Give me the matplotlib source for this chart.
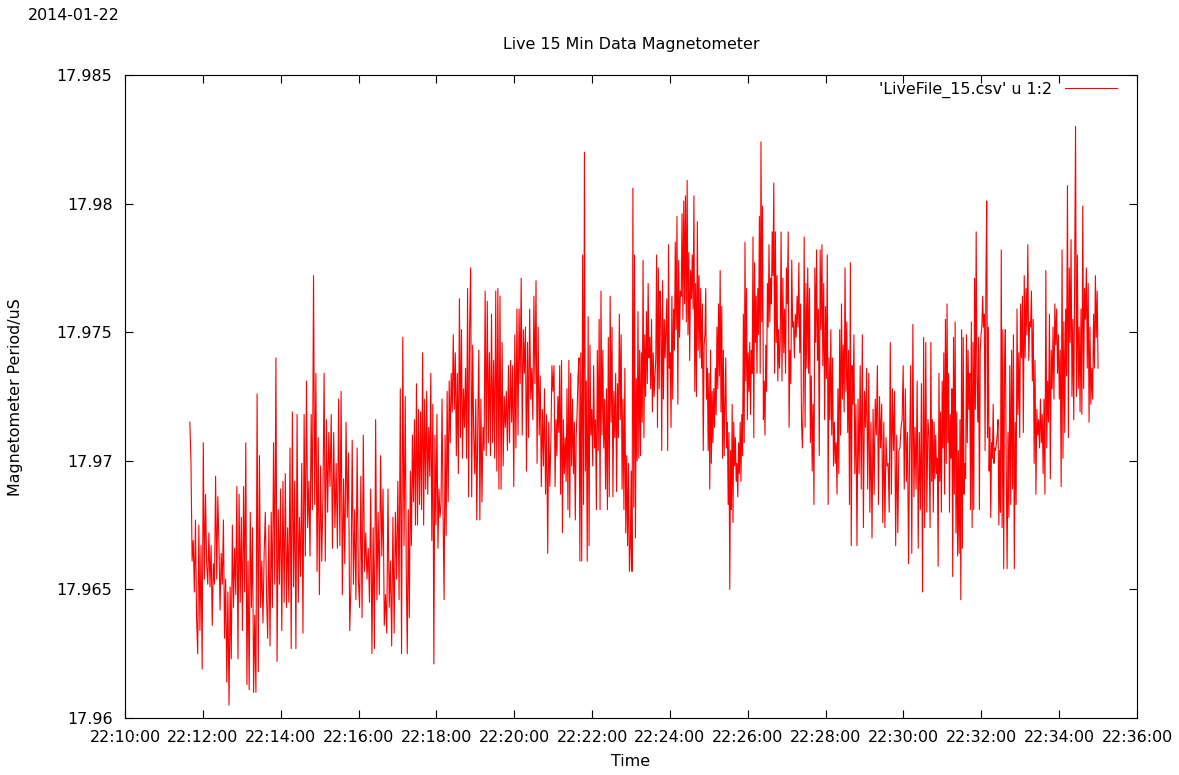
import numpy as np
import pandas as pd
import matplotlib
matplotlib.use("Agg")
import matplotlib.pyplot as plt
import matplotlib.dates as mdates

plt.rcParams['font.family'] = ['DejaVu Sans']

date_str = "2014-01-22"
title = "Live 15 Min Data Magnetometer"
legend_label = "'LiveFile_15.csv' u 1:2"
x_label = "Time"
y_label = "Magnetometer Period/uS"

# segment boundary times (data timestamps)
seg_times = ["22:11:40", "22:13:20", "22:15:16", "22:17:12", "22:19:07", "22:21:03",
             "22:22:59", "22:24:54", "22:26:50", "22:28:45", "22:30:41", "22:32:37",
             "22:35:00"]

seg1 = [17.9715, 17.9699, 17.9661, 17.9669, 17.9649, 17.9677, 17.9639, 17.9625, 17.9675, 17.9634,
        17.9667, 17.9619, 17.9707, 17.9654, 17.9687, 17.9660, 17.9652, 17.9672, 17.9651, 17.9667,
        17.9636, 17.9660, 17.9652, 17.9694, 17.9654, 17.9686, 17.9667, 17.9642, 17.9664, 17.9652,
        17.9677, 17.9631, 17.9654, 17.9614, 17.9649, 17.9605, 17.9651, 17.9623, 17.9675, 17.9643,
        17.9666, 17.9648, 17.9690, 17.9623, 17.9687, 17.9645, 17.9678, 17.9634, 17.9690, 17.9649,
        17.9707, 17.9613, 17.9661, 17.9611, 17.9680, 17.9643, 17.9674, 17.9610]
seg2 = [17.9640, 17.9610, 17.9726, 17.9618, 17.9702, 17.9643, 17.9661, 17.9637, 17.9664, 17.9680,
        17.9648, 17.9631, 17.9675, 17.9628, 17.9680, 17.9643, 17.9707, 17.9652, 17.9740, 17.9622,
        17.9681, 17.9652, 17.9689, 17.9634, 17.9692, 17.9645, 17.9695, 17.9643, 17.9674, 17.9645,
        17.9705, 17.9627, 17.9719, 17.9651, 17.9692, 17.9627, 17.9718, 17.9645, 17.9678, 17.9655,
        17.9699, 17.9633, 17.9718, 17.9663, 17.9731, 17.9674, 17.9692, 17.9663, 17.9718, 17.9681,
        17.9772, 17.9683, 17.9734, 17.9657, 17.9709, 17.9648, 17.9698, 17.9661, 17.9686, 17.9734,
        17.9661, 17.9716, 17.9680, 17.9711]
seg3 = [17.9690, 17.9718, 17.9666, 17.9711, 17.9674, 17.9699, 17.9666, 17.9724, 17.9667, 17.9727,
        17.9648, 17.9693, 17.9660, 17.9715, 17.9678, 17.9703, 17.9634, 17.9651, 17.9708, 17.9652,
        17.9681, 17.9646, 17.9705, 17.9654, 17.9643, 17.9694, 17.9639, 17.9710, 17.9657, 17.9672,
        17.9654, 17.9666, 17.9645, 17.9689, 17.9625, 17.9674, 17.9627, 17.9716, 17.9646, 17.9680,
        17.9648, 17.9702, 17.9663, 17.9689, 17.9636, 17.9648, 17.9633, 17.9689, 17.9643, 17.9661,
        17.9628, 17.9678, 17.9633, 17.9680, 17.9654, 17.9692, 17.9646, 17.9728, 17.9625, 17.9748,
        17.9667]
seg4 = [17.9725, 17.9657, 17.9625, 17.9681, 17.9639, 17.9696, 17.9667, 17.9710, 17.9684, 17.9716,
        17.9675, 17.9730, 17.9675, 17.9720, 17.9683, 17.9719, 17.9681, 17.9742, 17.9675, 17.9724,
        17.9689, 17.9727, 17.9687, 17.9713, 17.9694, 17.9734, 17.9669, 17.9722, 17.9621, 17.9710,
        17.9675, 17.9718, 17.9666, 17.9689, 17.9678, 17.9683, 17.9724, 17.9680, 17.9646, 17.9710,
        17.9671, 17.9727, 17.9684, 17.9731, 17.9707, 17.9734, 17.9719, 17.9749, 17.9720, 17.9742,
        17.9702, 17.9734, 17.9695, 17.9763, 17.9709, 17.9751, 17.9701, 17.9728, 17.9713, 17.9736,
        17.9701, 17.9767, 17.9686, 17.9752, 17.9775, 17.9686, 17.9745, 17.9710, 17.9695, 17.9724,
        17.9677, 17.9715, 17.9743]
seg5 = [17.9677, 17.9724, 17.9684, 17.9713, 17.9704, 17.9766, 17.9702, 17.9762, 17.9707, 17.9742,
        17.9702, 17.9757, 17.9707, 17.9739, 17.9701, 17.9766, 17.9696, 17.9767, 17.9689, 17.9764,
        17.9689, 17.9746, 17.9698, 17.9725, 17.9713, 17.9727, 17.9704, 17.9737, 17.9707, 17.9739,
        17.9715, 17.9737, 17.9690, 17.9749, 17.9705, 17.9759, 17.9710, 17.9759, 17.9730, 17.9771,
        17.9710, 17.9751, 17.9734, 17.9752, 17.9696, 17.9746, 17.9709, 17.9759, 17.9724, 17.9736,
        17.9716, 17.9764, 17.9730, 17.9770, 17.9699, 17.9752, 17.9710, 17.9733, 17.9690, 17.9720,
        17.9698, 17.9728, 17.9687, 17.9718, 17.9664, 17.9715, 17.9690, 17.9707, 17.9737, 17.9727,
        17.9737]
seg6 = [17.9690, 17.9716, 17.9702, 17.9725, 17.9711, 17.9737, 17.9687, 17.9739, 17.9672, 17.9716,
        17.9695, 17.9709, 17.9692, 17.9728, 17.9681, 17.9739, 17.9678, 17.9734, 17.9698, 17.9724,
        17.9695, 17.9715, 17.9677, 17.9710, 17.9719, 17.9733, 17.9740, 17.9661, 17.9742, 17.9661,
        17.9780, 17.9683, 17.9820, 17.9696, 17.9731, 17.9661, 17.9756, 17.9667, 17.9745, 17.9710,
        17.9720, 17.9698, 17.9737, 17.9705, 17.9716, 17.9681, 17.9743, 17.9704, 17.9755, 17.9681,
        17.9766, 17.9710, 17.9743, 17.9705, 17.9724, 17.9689, 17.9728, 17.9681, 17.9748, 17.9686,
        17.9764, 17.9715, 17.9752, 17.9686, 17.9727, 17.9709, 17.9734, 17.9688, 17.9730, 17.9709,
        17.9757, 17.9716, 17.9749, 17.9689, 17.9724, 17.9681, 17.9736, 17.9672, 17.9702, 17.9667,
        17.9699, 17.9657]
seg7 = [17.9667, 17.9696, 17.9657, 17.9806, 17.9682, 17.9780, 17.9670, 17.9732, 17.9700, 17.9758,
        17.9701, 17.9743, 17.9702, 17.9742, 17.9715, 17.9778, 17.9709, 17.9749, 17.9725, 17.9758,
        17.9730, 17.9769, 17.9740, 17.9748, 17.9728, 17.9755, 17.9719, 17.9742, 17.9725, 17.9733,
        17.9740, 17.9780, 17.9713, 17.9775, 17.9728, 17.9766, 17.9757, 17.9704, 17.9770, 17.9724,
        17.9755, 17.9740, 17.9751, 17.9763, 17.9704, 17.9784, 17.9736, 17.9742, 17.9713, 17.9764,
        17.9724, 17.9759, 17.9743, 17.9785, 17.9751, 17.9795, 17.9722, 17.9778, 17.9748, 17.9766,
        17.9764, 17.9796, 17.9755, 17.9801, 17.9761, 17.9803, 17.9754, 17.9809, 17.9749, 17.9781,
        17.9739, 17.9774, 17.9763, 17.9780, 17.9759, 17.9803, 17.9727, 17.9769, 17.9725, 17.9793,
        17.9743, 17.9772, 17.9740, 17.9767, 17.9736, 17.9761, 17.9704, 17.9745]
seg8 = [17.9749, 17.9767, 17.9724, 17.9736, 17.9704, 17.9734, 17.9689, 17.9743, 17.9699, 17.9727,
        17.9707, 17.9728, 17.9713, 17.9736, 17.9718, 17.9752, 17.9728, 17.9761, 17.9733, 17.9774,
        17.9719, 17.9760, 17.9701, 17.9743, 17.9702, 17.9722, 17.9740, 17.9705, 17.9715, 17.9683,
        17.9711, 17.9650, 17.9704, 17.9681, 17.9722, 17.9676, 17.9715, 17.9698, 17.9709, 17.9692,
        17.9699, 17.9686, 17.9707, 17.9695, 17.9715, 17.9692, 17.9718, 17.9702, 17.9757, 17.9707,
        17.9785, 17.9731, 17.9767, 17.9716, 17.9742, 17.9727, 17.9746, 17.9718, 17.9743, 17.9734,
        17.9787, 17.9709, 17.9777, 17.9746, 17.9764, 17.9734, 17.9767, 17.9749, 17.9795, 17.9734,
        17.9824, 17.9754, 17.9799, 17.9716, 17.9731, 17.9710, 17.9745, 17.9727, 17.9769, 17.9752,
        17.9784, 17.9754, 17.9771, 17.9761, 17.9789, 17.9772, 17.9808, 17.9734, 17.9789, 17.9746,
        17.9772, 17.9731, 17.9751, 17.9736]
seg9 = [17.9746, 17.9789, 17.9731, 17.9771, 17.9742, 17.9759, 17.9734, 17.9775, 17.9761, 17.9789,
        17.9713, 17.9743, 17.9730, 17.9778, 17.9752, 17.9754, 17.9740, 17.9757, 17.9748, 17.9764,
        17.9752, 17.9777, 17.9742, 17.9761, 17.9715, 17.9705, 17.9725, 17.9787, 17.9713, 17.9769,
        17.9736, 17.9775, 17.9734, 17.9767, 17.9707, 17.9733, 17.9696, 17.9722, 17.9683, 17.9775,
        17.9746, 17.9782, 17.9739, 17.9759, 17.9702, 17.9782, 17.9751, 17.9784, 17.9737, 17.9769,
        17.9716, 17.9760, 17.9732, 17.9780, 17.9683, 17.9740, 17.9716, 17.9751, 17.9710, 17.9740,
        17.9698, 17.9715, 17.9699, 17.9707, 17.9687, 17.9728, 17.9695, 17.9751, 17.9710, 17.9761,
        17.9724, 17.9745, 17.9719, 17.9775, 17.9727, 17.9754, 17.9711, 17.9743, 17.9683, 17.9777,
        17.9667, 17.9737, 17.9722, 17.9749]
seg10 = [17.9695, 17.9722, 17.9667, 17.9724, 17.9695, 17.9737, 17.9689, 17.9749, 17.9674, 17.9727,
         17.9713, 17.9736, 17.9689, 17.9734, 17.9680, 17.9715, 17.9670, 17.9720, 17.9687, 17.9724,
         17.9710, 17.9737, 17.9683, 17.9725, 17.9705, 17.9722, 17.9676, 17.9715, 17.9674, 17.9709,
         17.9698, 17.9699, 17.9680, 17.9746, 17.9687, 17.9728, 17.9704, 17.9727, 17.9667, 17.9710,
         17.9672, 17.9704, 17.9705, 17.9713, 17.9716, 17.9737, 17.9689, 17.9728, 17.9692, 17.9711,
         17.9660, 17.9705, 17.9737, 17.9664, 17.9753, 17.9686, 17.9713, 17.9689, 17.9731, 17.9666,
         17.9711, 17.9681, 17.9730, 17.9649, 17.9748, 17.9674, 17.9746, 17.9680, 17.9716, 17.9710]
seg11 = [17.9674, 17.9746, 17.9692, 17.9716, 17.9680, 17.9715, 17.9693, 17.9710, 17.9695, 17.9701,
         17.9659, 17.9734, 17.9692, 17.9719, 17.9680, 17.9731, 17.9705, 17.9742, 17.9687, 17.9755,
         17.9699, 17.9761, 17.9707, 17.9734, 17.9680, 17.9718, 17.9701, 17.9728, 17.9655, 17.9748,
         17.9687, 17.9754, 17.9672, 17.9719, 17.9663, 17.9704, 17.9664, 17.9716, 17.9646, 17.9751,
         17.9666, 17.9748, 17.9687, 17.9699, 17.9693, 17.9749, 17.9707, 17.9743, 17.9720, 17.9734,
         17.9681, 17.9754, 17.9674, 17.9746, 17.9681, 17.9771, 17.9720, 17.9789, 17.9733, 17.9715,
         17.9748, 17.9681, 17.9743, 17.9749, 17.9752, 17.9764, 17.9752, 17.9757, 17.9704, 17.9769,
         17.9801, 17.9709, 17.9752, 17.9696, 17.9713, 17.9678, 17.9707, 17.9701, 17.9722, 17.9699,
         17.9705, 17.9704, 17.9707, 17.9710, 17.9716, 17.9675, 17.9704, 17.9680, 17.9782, 17.9674,
         17.9751, 17.9658, 17.9737]
seg12 = [17.9751, 17.9698, 17.9658, 17.9711, 17.9678, 17.9737, 17.9683, 17.9743, 17.9689, 17.9749,
         17.9658, 17.9715, 17.9683, 17.9759, 17.9718, 17.9742, 17.9709, 17.9761, 17.9740, 17.9764,
         17.9711, 17.9772, 17.9740, 17.9767, 17.9749, 17.9784, 17.9739, 17.9754, 17.9752, 17.9766,
         17.9731, 17.9755, 17.9699, 17.9739, 17.9687, 17.9720, 17.9710, 17.9716, 17.9705, 17.9724,
         17.9707, 17.9718, 17.9695, 17.9724, 17.9687, 17.9774, 17.9705, 17.9731, 17.9715, 17.9757,
         17.9693, 17.9743, 17.9728, 17.9752, 17.9724, 17.9761, 17.9745, 17.9759, 17.9734, 17.9749,
         17.9724, 17.9743, 17.9690, 17.9782, 17.9701, 17.9754, 17.9711, 17.9759, 17.9733, 17.9807,
         17.9709, 17.9775, 17.9746, 17.9786, 17.9725, 17.9755, 17.9716, 17.9772, 17.9830, 17.9725,
         17.9780, 17.9728, 17.9752, 17.9719, 17.9759, 17.9718, 17.9799, 17.9728, 17.9767, 17.9755,
         17.9775, 17.9736, 17.9769, 17.9715, 17.9752, 17.9722, 17.9736, 17.9724, 17.9757, 17.9736,
         17.9772, 17.9748, 17.9766, 17.9736]

segments = [seg1, seg2, seg3, seg4, seg5, seg6, seg7, seg8, seg9, seg10, seg11, seg12]

y_ticks = [17.96, 17.965, 17.97, 17.975, 17.98, 17.985]
y_tick_labels = ["17.96", "17.965", "17.97", "17.975", "17.98", "17.985"]
x_start = "22:10:00"
x_end = "22:36:00"

# build timestamps
all_t = []
all_v = []
bounds = [pd.Timestamp(f"{date_str} {s}") for s in seg_times]
for i, seg in enumerate(segments):
    t0 = bounds[i].value
    t1 = bounds[i + 1].value
    last = (i == len(segments) - 1)
    ts = np.linspace(t0, t1, len(seg), endpoint=last)
    all_t.extend(pd.to_datetime(ts.astype('int64')))
    all_v.extend(seg)

W, H = 1179, 775
fig = plt.figure(figsize=(W / 100, H / 100), dpi=100)
ax = fig.add_axes([125 / W, 1 - 718 / H, (1137 - 125) / W, (718 - 75) / H])

ax.plot(all_t, all_v, color='#ff0000', lw=0.8, label=legend_label)

ax.set_xlim(pd.Timestamp(f"{date_str} {x_start}"), pd.Timestamp(f"{date_str} {x_end}"))
ax.set_ylim(17.96, 17.985)
ax.set_yticks(y_ticks)
ax.set_yticklabels(y_tick_labels)
ax.xaxis.set_major_locator(mdates.MinuteLocator(byminute=range(0, 60, 2)))
ax.xaxis.set_major_formatter(mdates.DateFormatter('%H:%M:%S'))

fs = 11.4
ax.tick_params(direction='in', top=True, right=True, length=6, width=0.8,
               labelsize=fs, colors='black')
ax.tick_params(axis='y', pad=9)
ax.tick_params(axis='x', pad=9)
for s in ax.spines.values():
    s.set_linewidth(0.8)

fig.text(28 / W, 1 - 16 / H, date_str, ha='left', va='center', fontsize=fs)
fig.text(631 / W, 1 - 45 / H, title, ha='center', va='center', fontsize=fs)
fig.text(631 / W, 1 - 762 / H, x_label, ha='center', va='center', fontsize=fs)
fig.text(16 / W, 1 - 397 / H, y_label, ha='center', va='center', rotation=90, fontsize=fs)

ax.legend(loc='upper right', frameon=False, markerfirst=False, fontsize=fs,
          handlelength=3.3, handletextpad=0.8, borderpad=0, borderaxespad=0,
          bbox_to_anchor=(1117 / W, 1 - 82 / H), bbox_transform=fig.transFigure)

fig.savefig("out.png", dpi=100)
